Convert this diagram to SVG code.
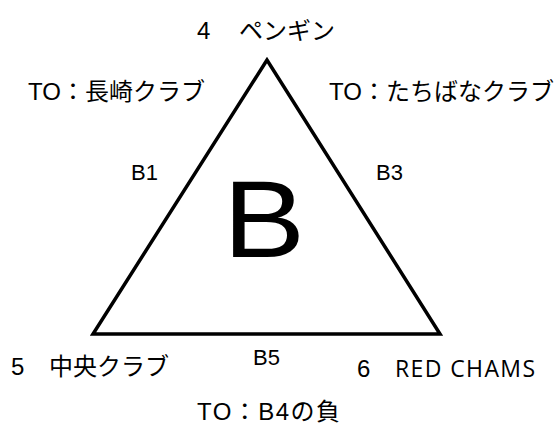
<svg xmlns="http://www.w3.org/2000/svg" width="560" height="428" viewBox="0 0 560 428">
<style>
text{font-family:"Liberation Sans","Noto Sans CJK JP",sans-serif;fill:#000}
.lbl{font-size:24px}
.edge{font-size:22px}
.big{font-size:110px}
.calib{font-family:"Open Sans","Liberation Sans",sans-serif;font-size:23px}
</style>
<rect width="560" height="428" fill="#fff"/>
<g id="connectors">
<polygon points="267,60 93,334 440,334" fill="none" stroke="#000" stroke-width="3.5" stroke-linejoin="miter"/>
</g>
<g id="node-center"><text class="big" transform="translate(223,257) scale(1.12,1)">B</text></g>
<g id="node-top"><text class="lbl" x="197" y="39">4<tspan x="239">ペンギン</tspan></text></g>
<g id="node-left-to"><text class="lbl" x="28" y="100">TO：長崎クラブ</text></g>
<g id="node-right-to"><text class="lbl" x="329" y="100">TO：たちばなクラブ</text></g>
<g id="node-b1"><text class="edge" x="131" y="180">B1</text></g>
<g id="node-b3"><text class="edge" x="376" y="180">B3</text></g>
<g id="node-b5"><text class="edge" x="253" y="365">B5</text></g>
<g id="node-bl"><text class="lbl" x="11" y="375">5<tspan x="49">中央クラブ</tspan></text></g>
<g id="node-br"><text class="lbl" x="357" y="377">6<tspan class="calib" x="395" textLength="140">RED CHAMS</tspan></text></g>
<g id="node-bottom"><text class="lbl" x="197" y="420" textLength="143">TO：B4の負</text></g>
</svg>
